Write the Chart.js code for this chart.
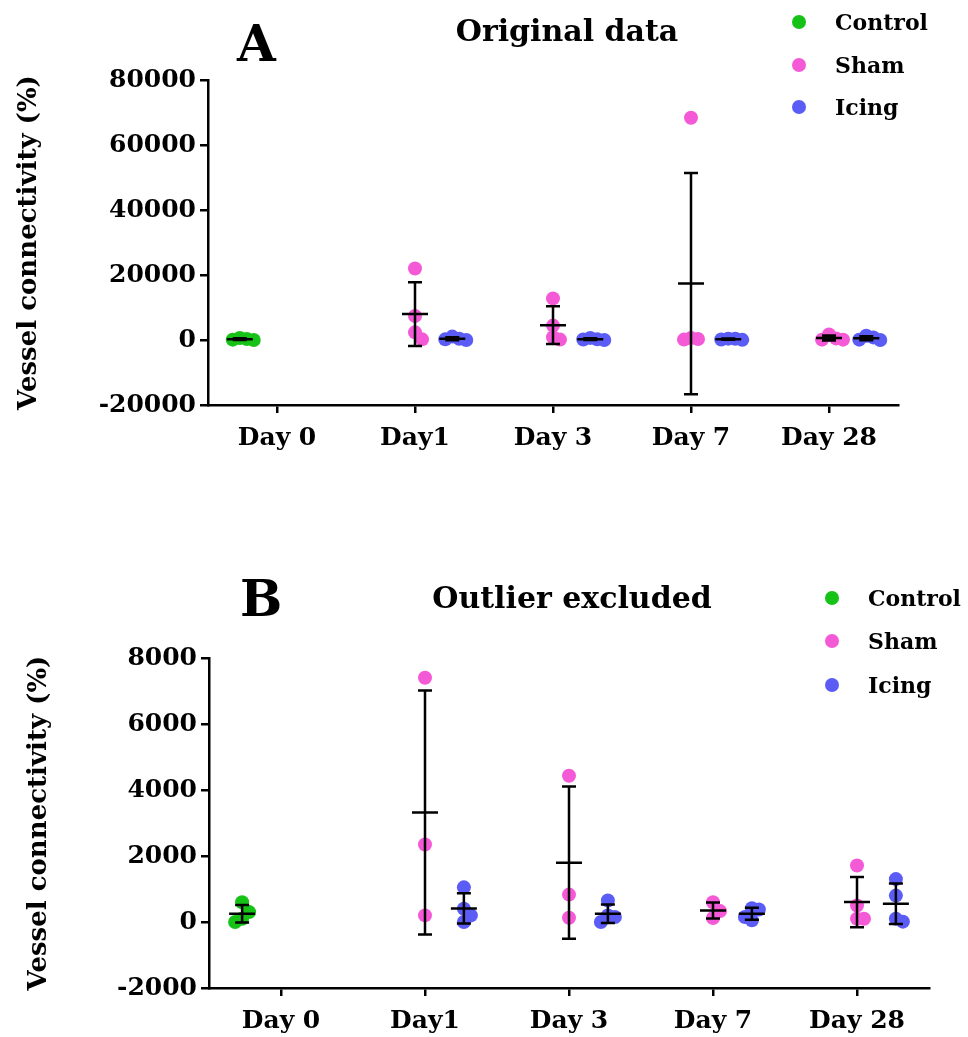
<!DOCTYPE html>
<html>
<head>
<meta charset="utf-8">
<script src="https://cdn.jsdelivr.net/npm/chart.js@4.4.1/dist/chart.umd.min.js"></script>
<style>
  body { margin: 0; background: #fff; font-family: 'DejaVu Serif', serif; font-weight: bold; color: #000; }
  #page { position: relative; width: 968px; height: 1037px; overflow: hidden; }
  .cv { position: absolute; left: 0; }
  .txt { position: absolute; line-height: 1; white-space: nowrap; }
  .letter { font-size: 50px; }
  .title { font-size: 30px; transform: translateX(-50%); }
  .leg { position: absolute; height: 24px; display: flex; align-items: center; font-size: 22px; line-height: 1; }
  .leg i { display: inline-block; width: 14px; height: 14px; border-radius: 50%; margin-right: 29px; }
</style>
</head>
<body>
<div id="page">
  <div class="cv" style="top:0;width:968px;height:480px"><canvas id="chartA"></canvas></div>
  <div class="cv" style="top:500px;width:968px;height:537px"><canvas id="chartB"></canvas></div>

  <div class="txt letter" style="left:237px;top:19px">A</div>
  <div class="txt title" style="left:567px;top:16px">Original data</div>
  <div class="leg" style="left:792px;top:10px"><i style="background:#17c217"></i>Control</div>
  <div class="leg" style="left:792px;top:53px"><i style="background:#f55ad6"></i>Sham</div>
  <div class="leg" style="left:792px;top:95px"><i style="background:#5a5cf5"></i>Icing</div>

  <div class="txt letter" style="left:240px;top:574px">B</div>
  <div class="txt title" style="left:572px;top:583px">Outlier excluded</div>
  <div class="leg" style="left:825px;top:586px"><i style="background:#17c217"></i>Control</div>
  <div class="leg" style="left:825px;top:629px"><i style="background:#f55ad6"></i>Sham</div>
  <div class="leg" style="left:825px;top:673px"><i style="background:#5a5cf5"></i>Icing</div>
</div>

<script>
// time points on the x axis
const days = ['Day 0', 'Day1', 'Day 3', 'Day 7', 'Day 28'];

// control animals, day 0 only
const controlDay0 = [600, 300, 100, 0];

// sham animals, Day1..Day 28, outliers removed
const shamKept = [
  [7400, 2350, 200],
  [4430, 830, 130],
  [600, 330, 120],
  [1710, 500, 100, 100]
];
// sham outliers per time point (null = none)
const shamOutliers = [22000, 12800, 68400, null];

// icing animals, Day1..Day 28
const icingValues = [
  [1050, 400, 200, 0],
  [650, 200, 150, 0],
  [420, 380, 150, 50],
  [1300, 800, 100, 10]
];

// y axis ticks for each panel
const ticksA = [-20000, 0, 20000, 40000, 60000, 80000];
const ticksB = [-2000, 0, 2000, 4000, 6000, 8000];

const COLORS = { Control: '#17c217', Sham: '#f55ad6', Icing: '#5a5cf5' };
const OFFSET = { Control: -0.27, Sham: 0, Icing: 0.27 };
const FONT = 'DejaVu Serif';
const R = 7;

function mean(a) { return a.reduce((s, v) => s + v, 0) / a.length; }
function sd(a) {
  const m = mean(a);
  return Math.sqrt(a.reduce((s, v) => s + (v - m) * (v - m), 0) / (a.length - 1));
}

// spread overlapping points sideways (GraphPad style scatter)
function spread(values, center, pxPerUnitY, pxPerCat) {
  const order = values.map((v, i) => i).sort((a, b) => values[b] - values[a]);
  const placed = [];
  const xs = new Array(values.length);
  const step = R / pxPerCat;
  order.forEach(i => {
    const slots = [0, 1, -1, 2, -2, 3, -3];
    for (const k of slots) {
      const hit = placed.some(p => p.k === k && Math.abs(p.v - values[i]) * pxPerUnitY < 1.6 * R);
      if (!hit) { placed.push({ k, v: values[i] }); xs[i] = center + k * step; break; }
    }
  });
  return xs;
}

function buildPanel(groups, yMin, yMax, plotH, plotW) {
  const pxY = plotH / (yMax - yMin);
  const pxX = plotW / days.length;
  return Object.keys(groups).map(name => {
    const data = [];
    const summaries = [];
    groups[name].forEach(g => {
      const cx = g.day + OFFSET[name];
      const xs = spread(g.values, cx, pxY, pxX);
      g.values.forEach((v, i) => data.push({ x: xs[i], y: v }));
      summaries.push({ x: cx, mean: mean(g.values), sd: sd(g.values) });
    });
    return {
      label: name,
      data,
      summaries,
      backgroundColor: COLORS[name],
      borderWidth: 0,
      pointRadius: R,
      pointHoverRadius: R
    };
  });
}

// mean line with SD whiskers on top of each scatter column
const errorBars = {
  id: 'errorBars',
  afterDatasetsDraw(chart) {
    const { ctx, scales: { x, y } } = chart;
    ctx.save();
    ctx.strokeStyle = '#000';
    ctx.lineWidth = 2.5;
    chart.data.datasets.forEach(ds => {
      ds.summaries.forEach(s => {
        const px = x.getPixelForValue(s.x);
        const pm = y.getPixelForValue(s.mean);
        const pt = y.getPixelForValue(s.mean + s.sd);
        const pb = y.getPixelForValue(s.mean - s.sd);
        ctx.beginPath();
        ctx.moveTo(px, pt); ctx.lineTo(px, pb);
        ctx.moveTo(px - 7, pt); ctx.lineTo(px + 7, pt);
        ctx.moveTo(px - 7, pb); ctx.lineTo(px + 7, pb);
        ctx.moveTo(px - 13, pm); ctx.lineTo(px + 13, pm);
        ctx.stroke();
      });
    });
    ctx.restore();
  }
};

function makeChart(id, datasets, yTicks, box) {
  const tickFont = { family: FONT, weight: 'bold', size: 25 };
  return new Chart(document.getElementById(id), {
    type: 'scatter',
    data: { datasets },
    options: {
      responsive: true,
      maintainAspectRatio: false,
      animation: false,
      layout: { padding: { top: box.top, right: box.right, left: 0, bottom: 0 } },
      plugins: { legend: { display: false }, tooltip: { enabled: false } },
      scales: {
        x: {
          type: 'linear',
          min: -0.5,
          max: days.length - 0.5,
          afterBuildTicks: axis => { axis.ticks = days.map((d, i) => ({ value: i })); },
          afterFit: axis => { axis.height = box.xHeight; },
          ticks: { callback: v => days[v], color: '#000', font: tickFont, padding: 10, maxRotation: 0, autoSkip: false },
          grid: { display: true, drawOnChartArea: false, drawTicks: true, tickLength: 8, color: '#000', lineWidth: 2.5 },
          border: { display: true, color: '#000', width: 2.5 }
        },
        y: {
          min: yTicks[0],
          max: yTicks[yTicks.length - 1],
          afterBuildTicks: axis => { axis.ticks = yTicks.map(v => ({ value: v })); },
          afterFit: axis => { axis.width = box.left; },
          ticks: { callback: v => String(v), color: '#000', font: tickFont, padding: 4 },
          grid: { display: true, drawOnChartArea: false, drawTicks: true, tickLength: 8, color: '#000', lineWidth: 2.5 },
          border: { display: true, color: '#000', width: 2.5 },
          title: {
            display: true,
            text: 'Vessel connectivity (%)',
            color: '#000',
            font: { family: FONT, weight: 'bold', size: 26 },
            padding: { top: box.titlePad, bottom: 0 }
          }
        }
      }
    },
    plugins: [errorBars]
  });
}

// panel A: every animal; panel B: sham outliers removed
const shamAll = shamKept.map((v, i) => shamOutliers[i] === null ? v : [shamOutliers[i]].concat(v));

const groupsA = {
  Control: [{ day: 0, values: controlDay0 }],
  Sham: shamAll.map((v, i) => ({ day: i + 1, values: v })),
  Icing: icingValues.map((v, i) => ({ day: i + 1, values: v }))
};
const groupsB = {
  Control: [{ day: 0, values: controlDay0 }],
  Sham: shamKept.map((v, i) => ({ day: i + 1, values: v })),
  Icing: icingValues.map((v, i) => ({ day: i + 1, values: v }))
};

makeChart('chartA', buildPanel(groupsA, ticksA[0], ticksA[ticksA.length - 1], 325, 690), ticksA,
  { top: 80, right: 70, left: 208, xHeight: 75, titlePad: 14 });
makeChart('chartB', buildPanel(groupsB, ticksB[0], ticksB[ticksB.length - 1], 330, 720), ticksB,
  { top: 158, right: 39, left: 209, xHeight: 49, titlePad: 24 });
</script>
</body>
</html>
